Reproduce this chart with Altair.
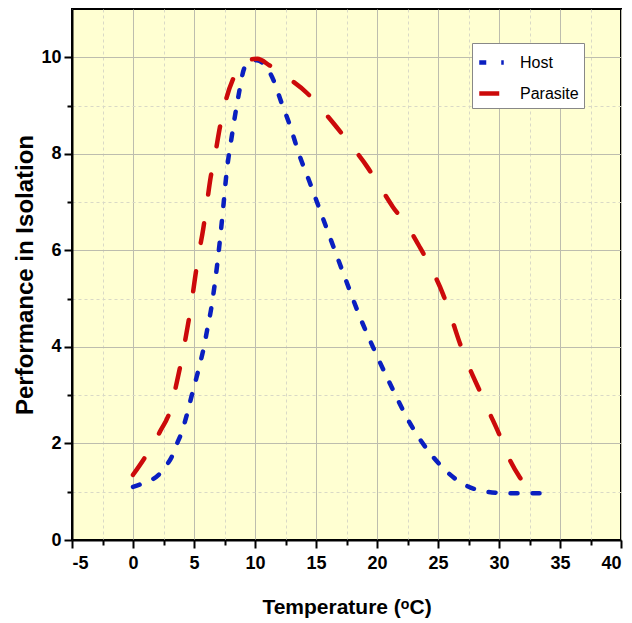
import altair as alt
import pandas as pd

host_t = [0, 0.7, 1.5, 2.1, 2.75, 3.17, 3.58, 4.0, 4.4, 4.8, 5.2, 5.5, 5.8, 6.1, 6.4, 6.7, 7.1, 7.4, 7.68, 8.09, 8.63, 9.18, 10.14, 11.4, 12.2, 12.9, 13.6, 14.5, 15.3, 16.1, 17.5, 18.6, 19.7, 21.1, 22.7, 24.6, 26.8, 29.0, 30.7, 32.5, 34.2]
host_p = [1.10, 1.16, 1.24, 1.35, 1.55, 1.72, 1.98, 2.24, 2.58, 2.98, 3.36, 3.66, 3.98, 4.38, 4.78, 5.3, 6.15, 6.9, 7.63, 8.35, 9.18, 9.8, 9.94, 9.59, 9.04, 8.56, 8.0, 7.4, 6.85, 6.3, 5.35, 4.62, 3.98, 3.22, 2.42, 1.72, 1.2, 1.0, 0.97, 0.97, 0.97]

parasite_t = [0, 1.1, 2.2, 3.1, 3.6, 4.0, 4.4, 4.75, 5.08, 5.35, 5.76, 6.04, 6.37, 6.72, 7.13, 7.54, 8.22, 8.8, 9.45, 10.2, 11.2, 12.6, 14.3, 15.3, 16.7, 17.8, 19.2, 20.1, 21.3, 22.5, 23.5, 24.5, 25.4, 26.1, 26.8, 27.6, 28.4, 29.1, 30.1, 30.7, 31.7, 32.5, 33.3]
parasite_p = [1.35, 1.76, 2.24, 2.73, 3.28, 3.76, 4.31, 4.83, 5.42, 5.87, 6.45, 6.94, 7.52, 7.97, 8.56, 9.04, 9.56, 9.82, 9.94, 9.97, 9.83, 9.59, 9.25, 8.97, 8.55, 8.2, 7.73, 7.38, 6.9, 6.5, 6.07, 5.6, 5.1, 4.6, 4.07, 3.55, 3.1, 2.7, 2.14, 1.76, 1.3, 1.04, 0.97]

series_names = ["Host", "Parasite"]
x_ticks = [-5 + 2.5 * i for i in range(19)]
y_ticks = list(range(0, 11))

df = pd.concat([
    pd.DataFrame({"T": host_t, "P": host_p, "Series": series_names[0]}),
    pd.DataFrame({"T": parasite_t, "P": parasite_p, "Series": series_names[1]}),
])

FONT = "Liberation Sans"
MAJOR_GRID = "#bdbdae"
MINOR_GRID = "#d9d9c6"

x_axis = alt.Axis(
    values=x_ticks,
    title="Temperature (ᵒC)",
    labelExpr="datum.value % 5 === 0 ? '' + datum.value : ''",
    labelFont=FONT, labelFontWeight="bold", labelFontSize=18, labelColor="black",
    labelPadding=6,
    titleFont=FONT, titleFontWeight="bold", titleFontSize=21, titleColor="black",
    titleBaseline="alphabetic", titleY=73,
    domainColor="black", domainWidth=2,
    tickColor="black", tickWidth=2,
    tickSize={"condition": {"test": "datum.value % 5 === 0", "value": 8}, "value": 5},
    gridColor={"condition": {"test": "datum.value % 5 === 0", "value": MAJOR_GRID}, "value": MINOR_GRID},
    gridDash={"condition": {"test": "datum.value % 5 === 0", "value": []}, "value": [3, 3]},
    gridWidth=1,
)
y_axis = alt.Axis(
    values=y_ticks,
    title="Performance in Isolation",
    labelExpr="datum.value % 2 === 0 ? '' + datum.value : ''",
    labelFont=FONT, labelFontWeight="bold", labelFontSize=18, labelColor="black",
    labelPadding=3,
    titleFont=FONT, titleFontWeight="bold", titleFontSize=24, titleColor="black",
    titleBaseline="alphabetic", titleX=-40,
    domainColor="black", domainWidth=2,
    tickColor="black", tickWidth=2,
    tickSize={"condition": {"test": "datum.value % 2 === 0", "value": 8}, "value": 5},
    gridColor={"condition": {"test": "datum.value % 2 === 0", "value": MAJOR_GRID}, "value": MINOR_GRID},
    gridDash={"condition": {"test": "datum.value % 2 === 0", "value": []}, "value": [3, 3]},
    gridWidth=1,
)

chart = alt.Chart(df).mark_line(interpolate="monotone", strokeWidth=4.5, strokeCap="round").encode(
    x=alt.X("T:Q", scale=alt.Scale(domain=[-5, 40], nice=False, zero=False), axis=x_axis),
    y=alt.Y("P:Q", scale=alt.Scale(domain=[0, 11], nice=False), axis=y_axis),
    color=alt.Color("Series:N", scale=alt.Scale(domain=series_names, range=["#0a1fc0", "#cc0a0a"]),
                    legend=alt.Legend(title=None, orient="none", legendX=400, legendY=34,
                                      fillColor="white", strokeColor="#888888", padding=5,
                                      labelFont=FONT, labelFontSize=16, labelColor="black",
                                      labelOffset=14,
                                      symbolType="stroke", symbolStrokeWidth=4.5, symbolSize=600,
                                      rowPadding=7)),
    strokeDash=alt.StrokeDash("Series:N", scale=alt.Scale(domain=series_names, range=[[7, 15], [20, 29]]), legend=None),
    order="T:Q",
).properties(
    width=549, height=531,
    autosize=alt.AutoSizeParams(type="none"),
    padding={"left": 64, "top": 1, "right": 3, "bottom": 82},
).configure_view(
    fill="#ffffd2", stroke="black", strokeWidth=2,
)

chart.save("out.html", embed_options={"renderer": "svg", "actions": False})
